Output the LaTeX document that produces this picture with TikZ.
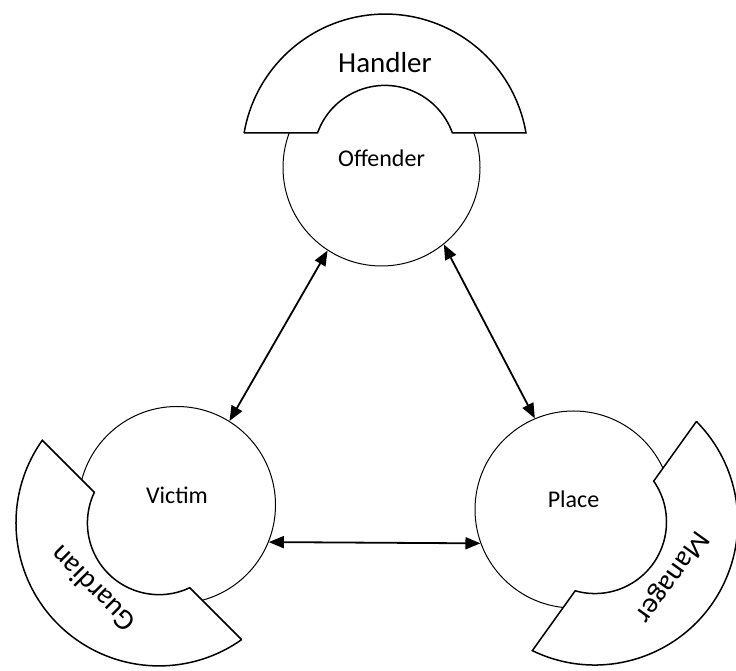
\documentclass[tikz,border=0pt]{standalone}
\usepackage{fontspec}
\setmainfont{Carlito}
\usetikzlibrary{arrows.meta}

\begin{document}
\begin{tikzpicture}[
      x=1pt, y=1pt,
      spot/.style={draw, circle, line width=1pt, minimum size=197pt, inner sep=0pt},
      spottext/.style={font=\fontsize{24}{28}\selectfont},
      role/.style={font=\fontsize{29}{34}\selectfont, inner sep=0pt},
      arcline/.style={draw, fill=white, line width=1.5pt, line join=miter},
      arr/.style={{Triangle[length=15pt, width=12pt]}-{Triangle[length=15pt, width=12pt]}, line width=1.8pt},
      blockarc/.pic={
        \draw[arcline] (-141,0) -- (-67.5,0)
          arc[start angle=160.4, end angle=19.6, radius=71.6] -- (141,0)
          arc[start angle=9.7, end angle=170.3, radius=143] -- cycle;
        \node[role, transform shape] (-t) at (0,70) {#1};
      },
    ]
    \useasboundingbox (0,0) rectangle (736,671);

    % the three corners of the triangle
    \node[spot] (off) at (381.5,503.5) {};
    \node[spot] (vic) at (177,166) {};
    \node[spot] (pla) at (573.5,161.5) {};
    \node[spottext] (off-t) at ([yshift=9]off.center) {Offender};
    \node[spottext] (vic-t) at ([yshift=10]vic.center) {Victim};
    \node[spottext] (pla-t) at ([yshift=10]pla.center) {Place};

    % controllers wrapped round each corner
    \pic (hdl) at (385,538) {blockarc=Handler};
    \pic[rotate=135] (grd) at (142,131) {blockarc=Guardian};
    \pic[rotate=-125.6] (mgr) at (614.4,135) {blockarc=Manager};

    \draw[arr] (off.-123.4) -- (vic.58.1);
    \draw[arr] (off.-51.7) -- (pla.113.6);
    \draw[arr] (vic.-22.2) -- (pla.-160.6);
  \end{tikzpicture}
\end{document}
